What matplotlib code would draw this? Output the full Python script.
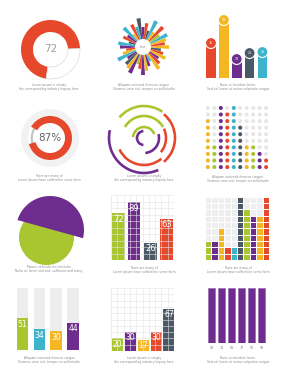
import numpy as np
import matplotlib
matplotlib.use("Agg")
import matplotlib.pyplot as plt
from matplotlib.patches import Circle, Polygon

# palette
ORANGE = '#E5482B'
YELLOW = '#F4B722'
PURPLE = '#6E2C8F'
DARK = '#4B5966'
TEAL = '#3DB3CC'
LIME = '#A9C530'
TXT = '#8a8a8a'

# data
donut_value = 72
ring_value = 87

sun_lengths = [26, 22, 24, 27, 20, 28, 18, 29, 17, 24, 20, 29, 21, 25, 16, 27, 19, 22, 15, 25,
               23, 17, 21, 28, 19, 24, 26, 29, 18, 22, 28, 24, 20, 16, 27, 23, 19, 25, 21, 18]
sun_colors = [YELLOW, ORANGE, YELLOW, TEAL, LIME, ORANGE, YELLOW, TEAL, DARK, ORANGE,
              PURPLE, DARK, TEAL, ORANGE, YELLOW, TEAL, PURPLE, ORANGE, DARK, TEAL,
              PURPLE, ORANGE, YELLOW, TEAL, PURPLE, DARK, YELLOW, PURPLE, LIME, ORANGE,
              PURPLE, YELLOW, PURPLE, TEAL, YELLOW, ORANGE, PURPLE, YELLOW, ORANGE, DARK]

pin_values = [35, 58, 19, 25, 26]
pin_colors = [ORANGE, YELLOW, PURPLE, DARK, TEAL]

arc_radius = [7, 11, 15, 22, 22, 27, 31, 32, 35]
arc_start = [95, 20, -85, 30, -40, 205, -50, 55, 167]
arc_end = [265, 175, 15, 150, 25, 310, 50, 140, 294]
arc_colors = [PURPLE, LIME, PURPLE, LIME, ORANGE, ORANGE, ORANGE, LIME, PURPLE]

dot_heights = [8, 4, 10, 9, 10, 7, 4, 4, 3, 2]
dot_colors = [YELLOW, LIME, PURPLE, ORANGE, TEAL, DARK, YELLOW, LIME, PURPLE, ORANGE]

grid_bar_values = [72, 89, 26, 63]
grid_bar_pos = [1.15, 3.65, 6.3, 8.85]
grid_bar_colors = [LIME, PURPLE, DARK, ORANGE]

block_heights = [3, 3, 5, 2, 2, 10, 8, 7, 7, 10]
block_colors = [LIME, PURPLE, YELLOW, ORANGE, TEAL, DARK, LIME, PURPLE, YELLOW, ORANGE]

track_values = [51, 34, 30, 44]
track_colors = [LIME, TEAL, YELLOW, PURPLE]

small_values = [20, 30, 17, 30, 67]
small_pos = [1.0, 3.05, 5.1, 7.2, 9.2]
small_colors = [LIME, PURPLE, YELLOW, ORANGE, DARK]

purple_labels = ['83', '74', '81', '72', '50', '98']
purple_heights = [100, 100, 100, 100, 100, 100]

captions = [
    ("Lorem ipsum is simply", "the corresponding industry Inquiry here"),
    ("Aliquam euismod rhoncus congue", "Vivamus urna nisl, tempor eu sollicitudin"),
    ("Nunc ut tincidunt lorem", "Sed vel lorem ut metus vulputate congue"),
    ("There are many of", "Lorem Ipsum have suffered in some form"),
    ("Lorem ipsum is simply", "the corresponding industry Inquiry here"),
    ("Aliquam euismod rhoncus congue", "Vivamus urna nisl, tempor eu sollicitudin"),
    ("Mauris vehicula nisi molestie", "Nulla ut, lorem sed sed, sufficient and many"),
    ("There are many of", "Lorem Ipsum have suffered in some form"),
    ("There are many of", "Lorem Ipsum have suffered in some form"),
    ("Aliquam euismod rhoncus congue", "Vivamus urna nisl, tempor eu sollicitudin"),
    ("Lorem ipsum is simply", "the corresponding industry Inquiry here"),
    ("Nunc ut tincidunt lorem", "Sed vel lorem ut metus vulputate congue"),
]
caption_x = [49, 144, 238] * 4
caption_y = [85, 85, 85, 176, 176, 177, 267, 268, 268, 358, 358, 358]

W, H = 284, 380
fig = plt.figure(figsize=(W / 100, H / 100), dpi=100, facecolor='white')


def px_axes(x, y, w, h, **kw):
    ax = fig.add_axes([x / W, 1 - (y + h) / H, w / W, h / H], **kw)
    ax.set_axis_off()
    return ax


# 1 donut
ax = px_axes(21, 20, 59, 59)
w, _ = ax.pie([donut_value, 100 - donut_value], colors=[ORANGE, 'white'], startangle=2,
              radius=29.5, wedgeprops=dict(width=12, linewidth=0))
w[1].set_edgecolor('#d0d0d0')
w[1].set_linewidth(0.4)
ax.set_xlim(-29.5, 29.5); ax.set_ylim(-29.5, 29.5)
ax.text(0, 0, str(donut_value), ha='center', va='center', fontsize=7.5, color='#a0a0a0')

# 2 sunburst
ax = px_axes(113, 17, 60, 60, projection='polar')
theta = np.deg2rad(np.arange(len(sun_lengths)) * 360 / len(sun_lengths))
ax.bar(theta, np.array(sun_lengths) - 8, width=0.145, bottom=8, color=sun_colors, linewidth=0)
ax.set_ylim(0, 30)
ax.text(0, 0, 'text', ha='center', va='center', fontsize=2.3, color=TXT)

# 3 pin bars
ax = px_axes(200.7, 10, 72, 68)
xs = np.arange(len(pin_values))
ax.bar(xs, pin_values, width=0.76, color=pin_colors, linewidth=0)
ax.scatter(xs, pin_values, s=62, c=pin_colors, edgecolors='white', linewidths=0.8, zorder=3)
for x, v in zip(xs, pin_values):
    ax.text(x, v, str(v), ha='center', va='center', fontsize=2.3, color='white', zorder=4)
ax.set_xlim(-0.8, 4.8); ax.set_ylim(0, 68)

# 4 ring with percentage
ax = px_axes(21, 109, 58, 58)
ax.add_patch(Circle((0, 0), 29, color='#F2F2F2', linewidth=0))
ax.add_patch(Circle((0, 0), 22, color='white', linewidth=0))
ax.pie([100], colors=['#c4c4c4'], radius=19.3, wedgeprops=dict(width=2.2, linewidth=0))
ax.pie([ring_value, 100 - ring_value], colors=[ORANGE, 'none'], startangle=196, radius=22,
       wedgeprops=dict(width=7, linewidth=0))
ax.set_xlim(-29, 29); ax.set_ylim(-29, 29)
ax.text(0, 0, f'{ring_value}%', ha='center', va='center', fontsize=7.5, color='#666666')

# 5 concentric arcs
ax = px_axes(106, 100, 76, 76, projection='polar')
for r, a0, a1, c in zip(arc_radius, arc_start, arc_end, arc_colors):
    ax.bar(np.deg2rad((a0 + a1) / 2), 2.6, width=np.deg2rad(a1 - a0), bottom=r - 1.3,
           color=c, linewidth=0)
ax.set_ylim(0, 38)

# 6 dot matrix
ax = px_axes(204, 104, 66, 67)
for i, (hgt, c) in enumerate(zip(dot_heights, dot_colors)):
    rows = np.arange(10)
    ax.scatter(np.full(10, i), rows, s=8.5, c=[c if r < hgt else '#E6E6E6' for r in rows],
               linewidths=0)
ax.set_xlim(-0.6, 9.6); ax.set_ylim(-0.6, 9.6)

# 7 two-part circle
ax = px_axes(12, 190, 76, 78)
ax.add_patch(Circle((46.5, 142.5), 27.5, color=LIME, linewidth=0))
seg_center, seg_r, seg_a0, seg_a1 = (50, 150), 34, -14, 163
t = np.deg2rad(np.linspace(seg_a0, seg_a1, 60))
ax.add_patch(Polygon(np.c_[seg_center[0] + seg_r * np.cos(t), seg_center[1] + seg_r * np.sin(t)],
                     closed=True, color=PURPLE, linewidth=0))
ax.set_xlim(12, 88); ax.set_ylim(112, 190)

# 8 grid bars
ax = px_axes(111, 195, 63, 65)
ax.vlines(np.arange(0, 11), 0, 100, color='#E3E3E3', lw=0.4)
ax.hlines(np.arange(0, 101, 10), 0, 10, color='#E3E3E3', lw=0.4)
ax.bar(grid_bar_pos, grid_bar_values, width=2.05, color=grid_bar_colors, linewidth=0)
for x, v in zip(grid_bar_pos, grid_bar_values):
    ax.text(x, v - 9, str(v), ha='center', va='center', fontsize=6, color='white')
ax.set_xlim(0, 10); ax.set_ylim(0, 100)

# 9 block grid
ax = px_axes(205, 196.7, 64, 63.3)
for i, (hgt, c) in enumerate(zip(block_heights, block_colors)):
    rows = np.arange(10)
    ax.bar(np.full(10, i), np.ones(10), bottom=rows, width=1,
           color=[c if r < hgt else '#EEEEEE' for r in rows], edgecolor='white', linewidth=0.7)
ax.set_xlim(-0.5, 9.5); ax.set_ylim(0, 10)

# 10 bars on tracks
ax = px_axes(13.3, 288, 69, 62)
xs = np.arange(len(track_values))
ax.bar(xs, [100] * len(xs), width=0.68, color='#EDEDED', linewidth=0)
ax.bar(xs, track_values, width=0.68, color=track_colors, linewidth=0)
for x, v in zip(xs, track_values):
    ax.text(x, v - 10, str(v), ha='center', va='center', fontsize=5.5, color='white')
ax.set_xlim(-0.55, 3.55); ax.set_ylim(0, 100)

# 11 small grid bars
ax = px_axes(111, 288, 63, 63)
ax.vlines(np.arange(0, 11), 0, 100, color='#E3E3E3', lw=0.4)
ax.hlines(np.arange(0, 101, 10), 0, 10, color='#E3E3E3', lw=0.4)
ax.bar(small_pos, small_values, width=1.75, color=small_colors, linewidth=0)
for x, v in zip(small_pos, small_values):
    ax.text(x, v - 9, str(v), ha='center', va='center', fontsize=5.5, color='white')
ax.set_xlim(0, 10); ax.set_ylim(0, 100)

# 12 purple columns
ax = px_axes(205, 288, 63, 55)
xs = np.arange(len(purple_heights))
ax.bar(xs, purple_heights, width=0.7, color=PURPLE, edgecolor='#9A6BB6', linewidth=0.5)
ax.set_xlim(-0.65, 5.65); ax.set_ylim(0, 100)
for x, lab in zip(xs, purple_labels):
    ax.text(x, -9, lab, ha='center', va='center', fontsize=2.4, color=TXT, clip_on=False)

# captions
for (l1, l2), cx, cy in zip(captions, caption_x, caption_y):
    fig.text(cx / W, 1 - cy / H, l1, ha='center', va='center', fontsize=2.2, color=TXT)
    fig.text(cx / W, 1 - (cy + 4) / H, l2, ha='center', va='center', fontsize=2.2, color=TXT)

fig.savefig('out.png', dpi=100, facecolor='white')
